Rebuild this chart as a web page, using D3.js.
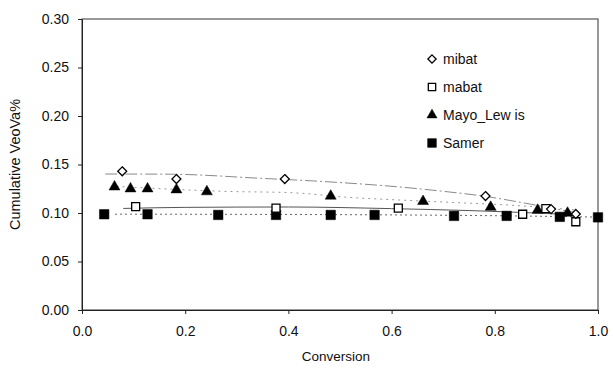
<!DOCTYPE html>
<html>
<head>
<meta charset="utf-8">
<script src="https://cdn.jsdelivr.net/npm/d3@7"></script>
<style>
  html, body { margin: 0; padding: 0; background: #fff; }
  svg { display: block; font-family: "Liberation Sans", Arial, sans-serif; }
</style>
</head>
<body>
<svg id="chart" width="613" height="372"></svg>
<script>
// Cumulative VeoVa% against conversion for four copolymerisation models
const mibatX = [0.078, 0.183, 0.393, 0.782, 0.909, 0.957];
const mibatY = [0.143, 0.135, 0.135, 0.1175, 0.104, 0.099];

const mabatX = [0.104, 0.376, 0.613, 0.854, 0.899, 0.957];
const mabatY = [0.1065, 0.105, 0.105, 0.0987, 0.1045, 0.091];

const mayoX = [0.063, 0.094, 0.127, 0.183, 0.242, 0.482, 0.661, 0.792, 0.883, 0.941];
const mayoY = [0.127, 0.125, 0.125, 0.124, 0.122, 0.1175, 0.112, 0.106, 0.103, 0.100];

const samerX = [0.043, 0.127, 0.264, 0.376, 0.482, 0.567, 0.721, 0.823, 0.926, 1.0];
const samerY = [0.0987, 0.0987, 0.098, 0.098, 0.098, 0.098, 0.097, 0.097, 0.096, 0.0955];

// trend lines
const mibatTrendX = [0.045, 0.17, 0.345, 0.494, 0.616, 0.713, 0.777, 0.86, 0.96];
const mibatTrendY = [0.1402, 0.1400, 0.1358, 0.1316, 0.1268, 0.1216, 0.1175, 0.110, 0.100];
const mabatTrendX = [0.08, 0.2, 0.4, 0.6, 0.75, 0.9, 0.96];
const mabatTrendY = [0.1047, 0.1058, 0.1062, 0.1045, 0.1025, 0.0995, 0.098];
const mayoTrendX = [0.067, 0.287, 0.403, 0.525, 0.591, 0.713, 0.833, 0.96];
const mayoTrendY = [0.1274, 0.1222, 0.121, 0.1158, 0.114, 0.111, 0.108, 0.103];
const samerTrendX = [0.064, 0.5, 0.8, 1.0];
const samerTrendY = [0.0988, 0.0983, 0.0972, 0.0958];

const xTicks = [0.0, 0.2, 0.4, 0.6, 0.8, 1.0];
const yTicks = [0.00, 0.05, 0.10, 0.15, 0.20, 0.25, 0.30];
const legendNames = ["mibat", "mabat", "Mayo_Lew is", "Samer"];

const svg = d3.select("#chart");
const m = { left: 82, top: 19, right: 15, bottom: 62 };
const W = 613 - m.left - m.right;
const H = 372 - m.top - m.bottom;

const x = d3.scaleLinear().domain([0, 1]).range([0, W]);
const y = d3.scaleLinear().domain([0, 0.30]).range([H, 0]);

const g = svg.append("g").attr("transform", `translate(${m.left},${m.top})`);

// plot frame
g.append("rect").attr("x", 0).attr("y", 0).attr("width", W).attr("height", H)
  .attr("fill", "none").attr("stroke", "#333").attr("stroke-width", 1);

// axes
const xAxis = g.append("g").attr("transform", `translate(0,${H})`)
  .call(d3.axisBottom(x).tickValues(xTicks).tickFormat(d3.format(".1f")).tickSize(4).tickSizeOuter(0));
const yAxis = g.append("g")
  .call(d3.axisLeft(y).tickValues(yTicks).tickFormat(d3.format(".2f")).tickSize(4).tickSizeOuter(0));
[xAxis, yAxis].forEach(a => {
  a.select(".domain").attr("stroke", "#222");
  a.selectAll(".tick line").attr("stroke", "#222");
  a.selectAll(".tick text").attr("font-size", 14).attr("fill", "#111")
    .attr("font-family", "'Liberation Sans', Arial, sans-serif");
});
xAxis.selectAll(".tick text").attr("dy", "1.35em");
yAxis.selectAll(".tick text").attr("dx", "-6");

// axis titles
svg.append("text").attr("x", m.left + W / 2 - 4).attr("y", 361)
  .attr("text-anchor", "middle").attr("font-size", 13.5).attr("fill", "#111").text("Conversion");
svg.append("text").attr("transform", `translate(20,${m.top + H / 2}) rotate(-90)`)
  .attr("text-anchor", "middle").attr("font-size", 14.5).attr("fill", "#111").text("Cumulative VeoVa%");

// trend lines
const line = d3.line().x(d => x(d[0])).y(d => y(d[1])).curve(d3.curveMonotoneX);
const trends = [
  { xs: mibatTrendX, ys: mibatTrendY, stroke: "#8a8a8a", dash: "12,3,2,3", w: 1 },
  { xs: mayoTrendX, ys: mayoTrendY, stroke: "#9a9a9a", dash: "2,4", w: 1 },
  { xs: mabatTrendX, ys: mabatTrendY, stroke: "#555", dash: null, w: 1 },
  { xs: samerTrendX, ys: samerTrendY, stroke: "#666", dash: "2,3", w: 1 }
];
trends.forEach(t => {
  g.append("path").datum(d3.zip(t.xs, t.ys)).attr("d", line)
    .attr("fill", "none").attr("stroke", t.stroke).attr("stroke-width", t.w)
    .attr("stroke-dasharray", t.dash);
});

// square diamond (rotated square) symbol
const rhombus = {
  draw(ctx, size) {
    const r = Math.sqrt(size / 2);
    ctx.moveTo(0, -r); ctx.lineTo(r, 0); ctx.lineTo(0, r); ctx.lineTo(-r, 0); ctx.closePath();
  }
};

// markers
const series = [
  { xs: samerX, ys: samerY, type: d3.symbolSquare, size: 90, fill: "#000", stroke: "#000", sw: 0.5 },
  { xs: mayoX, ys: mayoY, type: d3.symbolTriangle, size: 52, fill: "#000", stroke: "#000", sw: 0.5 },
  { xs: mabatX, ys: mabatY, type: d3.symbolSquare, size: 64, fill: "#fff", stroke: "#000", sw: 1.3 },
  { xs: mibatX, ys: mibatY, type: rhombus, size: 40, fill: "#fff", stroke: "#000", sw: 1.3 }
];
series.forEach(s => {
  g.append("g").selectAll("path").data(d3.zip(s.xs, s.ys)).join("path")
    .attr("transform", d => `translate(${x(d[0])},${y(d[1])})`)
    .attr("d", d3.symbol().type(s.type).size(s.size))
    .attr("fill", s.fill).attr("stroke", s.stroke).attr("stroke-width", s.sw);
});

// legend
const legendSymbols = [series[3], series[2], series[1], series[0]];
const lg = svg.append("g").attr("transform", "translate(432,59)");
legendNames.forEach((name, i) => {
  const s = legendSymbols[i];
  const row = lg.append("g").attr("transform", `translate(0,${i * 28})`);
  row.append("path").attr("d", d3.symbol().type(s.type).size(s.size * 0.85))
    .attr("fill", s.fill).attr("stroke", s.stroke).attr("stroke-width", s.sw);
  row.append("text").attr("x", 11).attr("y", 5).attr("font-size", 14).attr("fill", "#111").text(name);
});
</script>
</body>
</html>
